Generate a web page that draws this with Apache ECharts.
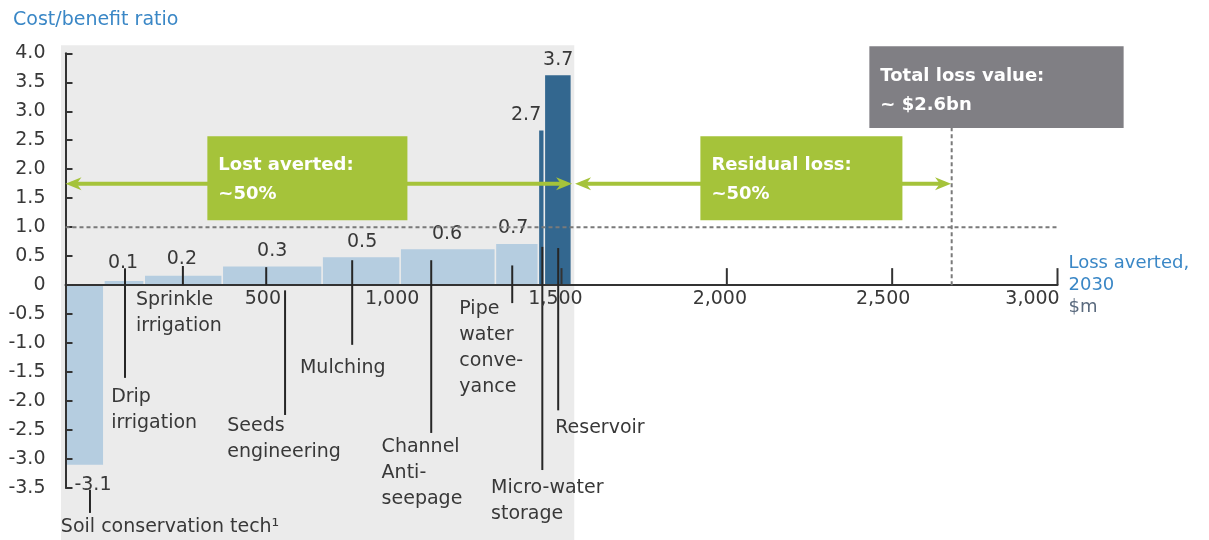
<!DOCTYPE html>
<html><head><meta charset="utf-8">
<script src="https://cdn.jsdelivr.net/npm/echarts@6/dist/echarts.min.js"></script>
<style>html,body{margin:0;padding:0;background:#fff}#c{width:1209px;height:540px}</style>
</head><body><div id="c"></div>
<script>
// ---------- data ----------
const levers = ['Soil conservation tech¹', 'Drip\nirrigation', 'Sprinkle\nirrigation', 'Seeds\nengineering', 'Mulching', 'Channel\nAnti-\nseepage', 'Pipe\nwater\nconve-\nyance', 'Micro-water\nstorage', 'Reservoir'];
const lossAverted = [116, 122, 236, 302, 236, 288, 130, 18, 82];          // $m per lever
const costBenefit = [-3.1, 0.07, 0.16, 0.32, 0.48, 0.62, 0.71, 2.67, 3.62]; // ratio
const ratioLabels = ['-3.1', '0.1', '0.2', '0.3', '0.5', '0.6', '0.7', '2.7', '3.7'];
const xTickValues = [500, 1000, 1500, 2000, 2500, 3000];
const xTickLabels = ['500', '1,000', '1,500', '2,000', '2,500', '3,000'];
const xTickMarks = [1500, 2000, 2500, 3000];
const totalLoss = 2680;
const thresholdRatio = 1.0;
const boxLost = ['Lost averted:', '~50%'];
const boxResidual = ['Residual loss:', '~50%'];
const boxTotal = ['Total loss value:', '~ $2.6bn'];

// ---------- layout (annotation anchors in data units, label nudges in px) ----------
const layout = {
  background: [[-13.6, 4.14], [1538.6, -4.45]],
  valueLabelPos: [[83, -3.45], [174, 0.38], [352, 0.45], [625, 0.59], [897, 0.74], [1154, 0.88], [1354, 0.98], [1393, 2.93], [1490, 3.88]],
  leaders: [[[74, -3.53], [74, -3.93]], [[180, 0.29], [180, -1.60]], [[355, 0.33], [355, 0]], [[607, 0.31], [607, 0]], [[664, -0.09], [664, -2.24]], [[867, 0.43], [867, -1.03]], [[1106, 0.43], [1106, -2.55]], [[1351, 0.34], [1351, -0.31]], [[1442, 0.66], [1442, -3.19]], [[1490, 0.64], [1490, -2.16]]],
  nameLabelPos: [[-14, -4.17], [138, -1.93], [213, -0.26], [489, -2.43], [709, -1.43], [956, -2.79], [1191, -0.41], [1287, -3.5], [1481, -2.47]],
  xLabelNudge: [32, -4, -6, -7, -9, -25],
  xLabelDrop: 14,
  arrowY: 1.75,
  lostArrow: [0, 1532],
  residualArrow: [1541, 2678],
  lostBox: [[429, 2.57], [1034, 1.12]],
  residualBox: [[1920, 2.57], [2531, 1.12]],
  totalBox: [[2431, 4.12], [3200, 2.71]]
};

const FONT = '"DejaVu Sans", sans-serif';
const TXT = '#383838';
const LIGHT = '#b5cde0', DARK = '#33678f', GREEN = '#a5c33a', GREYBOX = '#807f84';
const BLUE = '#3a87c6';

const starts = [], ends = [];
lossAverted.reduce((acc, w) => { starts.push(acc); ends.push(acc + w); return acc + w; }, 0);

const chart = echarts.init(document.getElementById('c'));

function rectFrom(api, box, fill) {
  const a = api.coord(box[0]), b = api.coord(box[1]);
  return { type: 'rect', shape: { x: Math.min(a[0], b[0]), y: Math.min(a[1], b[1]), width: Math.abs(b[0] - a[0]), height: Math.abs(b[1] - a[1]) }, style: { fill: fill } };
}
function boxText(api, box, lines) {
  const a = api.coord(box[0]);
  return { type: 'text', x: a[0] + 11, y: a[1] + 15, style: { text: lines.join('\n'), fill: '#fff', fontFamily: FONT, fontSize: 18, fontWeight: 'bold', lineHeight: 29, align: 'left', verticalAlign: 'top' } };
}
function arrow(api, x0, x1, y) {
  const a = api.coord([x0, y]), b = api.coord([x1, y]);
  const L = 16, H = 6.5;
  const head = (tip, dir) => ({ type: 'polygon', shape: { points: [[tip[0], tip[1]], [tip[0] - dir * L, tip[1] - H], [tip[0] - dir * L * 0.7, tip[1]], [tip[0] - dir * L, tip[1] + H]] }, style: { fill: GREEN } });
  return [
    { type: 'line', shape: { x1: a[0] + 6, y1: a[1], x2: b[0] - 6, y2: b[1] }, style: { stroke: GREEN, lineWidth: 4 } },
    head(a, -1), head(b, 1)
  ];
}

const option = {
  animation: false,
  backgroundColor: '#ffffff',
  title: { text: 'Cost/benefit ratio', left: 8, top: 6, textStyle: { fontFamily: FONT, fontSize: 19, fontWeight: 'normal', color: BLUE } },
  grid: { left: 65.5, right: 151.5, top: 53.3, bottom: 52, containLabel: false, outerBoundsMode: 'none' },
  xAxis: {
    type: 'value', min: 0, max: 3000, interval: 500, z: 3,
    name: '{a|Loss averted,}\n{a|2030}\n{b|$m}', nameLocation: 'end', nameGap: 11,
    nameTextStyle: { align: 'left', verticalAlign: 'middle', rich: { a: { fontFamily: FONT, fontSize: 18, color: BLUE, lineHeight: 22 }, b: { fontFamily: FONT, fontSize: 18, color: '#5a6a7e', lineHeight: 22 } } },
    axisLine: { show: true, onZero: true, lineStyle: { color: '#333', width: 2 } },
    axisTick: { show: false },
    splitLine: { show: false },
    axisLabel: { show: false }
  },
  yAxis: {
    type: 'value', min: -3.5, max: 4.0, interval: 0.5, z: 3,
    axisLine: { show: true, onZero: false, lineStyle: { color: '#333', width: 2 } },
    axisTick: { show: true, inside: true, length: 7, lineStyle: { color: '#333', width: 2 } },
    splitLine: { show: false },
    axisLabel: { margin: 20, fontFamily: FONT, fontSize: 19, color: TXT, formatter: v => v === 0 ? '0' : v.toFixed(1) }
  },
  series: [
    { // grey panel behind the levers
      type: 'custom', z: -1, clip: false, silent: true,
      data: [[0, 0]],
      renderItem: (p, api) => rectFrom(api, layout.background, '#ebebeb')
    },
    { // variable-width bars
      type: 'custom', z: 2, clip: false,
      data: levers.map((n, i) => [starts[i], ends[i], costBenefit[i], i]),
      encode: { x: [0, 1], y: 2 },
      renderItem: (p, api) => {
        const s = api.value(0), e = api.value(1), v = api.value(2), i = api.value(3);
        const a = api.coord([s, 0]), b = api.coord([e, v]);
        const g = 0.8;
        return { type: 'rect', shape: { x: a[0] + g, y: Math.min(a[1], b[1]), width: b[0] - a[0] - 2 * g, height: Math.abs(b[1] - a[1]) }, style: { fill: i >= 7 ? DARK : LIGHT } };
      }
    },
    { // leaders, value labels, lever names, x tick labels
      type: 'custom', z: 4, clip: false, silent: true,
      data: [[0, 0]],
      renderItem: (p, api) => {
        const ch = [];
        layout.leaders.forEach(seg => {
          const a = api.coord(seg[0]), b = api.coord(seg[1]);
          ch.push({ type: 'line', shape: { x1: a[0], y1: a[1], x2: b[0], y2: b[1] }, style: { stroke: '#262626', lineWidth: 2 } });
        });
        ratioLabels.forEach((t, i) => {
          const q = api.coord(layout.valueLabelPos[i]);
          ch.push({ type: 'text', x: q[0], y: q[1], style: { text: t, fill: TXT, fontFamily: FONT, fontSize: 19, align: 'center', verticalAlign: 'middle' } });
        });
        levers.forEach((t, i) => {
          const q = api.coord(layout.nameLabelPos[i]);
          ch.push({ type: 'text', x: q[0], y: q[1] - 13, style: { text: t, fill: TXT, fontFamily: FONT, fontSize: 19, lineHeight: 26, align: 'left', verticalAlign: 'top' } });
        });
        xTickValues.forEach((v, i) => {
          const q = api.coord([v, 0]);
          ch.push({ type: 'text', x: q[0] + layout.xLabelNudge[i], y: q[1] + layout.xLabelDrop, style: { text: xTickLabels[i], fill: TXT, fontFamily: FONT, fontSize: 19, align: 'center', verticalAlign: 'middle' } });
        });
        return { type: 'group', children: ch };
      }
    },
    { // threshold, total loss line, arrows, boxes, ticks
      type: 'custom', z: 5, clip: false, silent: true,
      data: [[0, 0]],
      renderItem: (p, api) => {
        const ch = [];
        const h0 = api.coord([0, thresholdRatio]), h1 = api.coord([3000, thresholdRatio]);
        ch.push({ type: 'line', shape: { x1: h0[0], y1: h0[1], x2: h1[0], y2: h1[1] }, style: { stroke: '#7a7a7a', lineWidth: 2, lineDash: [4, 3] } });
        const v0 = api.coord([totalLoss, 0]), v1 = api.coord([totalLoss, layout.totalBox[1][1]]);
        ch.push({ type: 'line', shape: { x1: v0[0], y1: v0[1], x2: v1[0], y2: v1[1] }, style: { stroke: '#7a7a7a', lineWidth: 2, lineDash: [4, 3] } });
        xTickMarks.forEach(t => {
          const q = api.coord([t, 0]);
          ch.push({ type: 'line', shape: { x1: q[0], y1: q[1], x2: q[0], y2: q[1] - 17 }, style: { stroke: '#333', lineWidth: 2 } });
        });
        arrow(api, layout.lostArrow[0], layout.lostArrow[1], layout.arrowY).forEach(e => ch.push(e));
        arrow(api, layout.residualArrow[0], layout.residualArrow[1], layout.arrowY).forEach(e => ch.push(e));
        ch.push(rectFrom(api, layout.lostBox, GREEN), boxText(api, layout.lostBox, boxLost));
        ch.push(rectFrom(api, layout.residualBox, GREEN), boxText(api, layout.residualBox, boxResidual));
        ch.push(rectFrom(api, layout.totalBox, GREYBOX), boxText(api, layout.totalBox, boxTotal));
        return { type: 'group', children: ch };
      }
    }
  ]
};
chart.setOption(option);
</script></body></html>
